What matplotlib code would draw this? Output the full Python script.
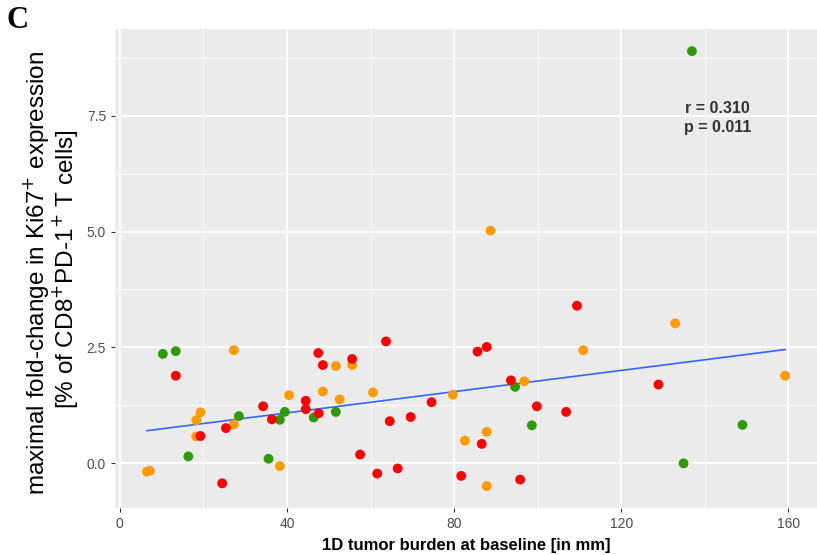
import numpy as np
import matplotlib
matplotlib.use('Agg')
import matplotlib.pyplot as plt

green_x = [10.3, 13.4, 16.4, 28.5, 35.6, 38.3, 39.5, 46.4, 51.7, 94.6, 98.6, 134.9, 136.9, 149.0]
green_y = [2.36, 2.42, 0.15, 1.02, 0.10, 0.94, 1.11, 0.99, 1.11, 1.65, 0.82, 0.00, 8.89, 0.83]

orange_x = [6.5, 7.2, 18.3, 18.3, 19.3, 27.3, 27.3, 38.3, 40.5, 48.6, 51.7, 52.6, 55.6, 60.6,
            79.7, 82.6, 87.8, 87.8, 88.7, 96.8, 110.9, 132.9, 159.2]
orange_y = [-0.18, -0.16, 0.93, 0.58, 1.10, 2.44, 0.84, -0.06, 1.47, 1.55, 2.10, 1.38, 2.12, 1.53,
            1.48, 0.49, 0.68, -0.49, 5.02, 1.77, 2.44, 3.02, 1.89]

red_x = [13.4, 19.3, 24.5, 25.4, 34.3, 36.4, 44.5, 44.5, 47.5, 47.6, 48.6, 55.6, 57.5, 61.6,
         63.7, 64.6, 66.5, 69.6, 74.6, 81.7, 85.6, 86.6, 87.8, 93.6, 95.8, 99.8, 106.8, 109.4, 128.9]
red_y = [1.89, 0.59, -0.43, 0.76, 1.23, 0.95, 1.35, 1.17, 2.38, 1.08, 2.12, 2.25, 0.19, -0.22,
         2.63, 0.91, -0.11, 1.00, 1.32, -0.27, 2.41, 0.42, 2.51, 1.79, -0.35, 1.23, 1.11, 3.40, 1.70]

x_ticks = [0, 40, 80, 120, 160]
y_ticks = [0.0, 2.5, 5.0, 7.5]
stats_text = "r = 0.310\np = 0.011"

fig = plt.figure(figsize=(8.17, 5.55), dpi=100)
ax = fig.add_axes([0.1408, 0.085, 0.8592, 0.862])
ax.set_facecolor('#EBEBEB')

for spine in ax.spines.values():
    spine.set_visible(False)

# ggplot-ish grid
ax.set_xticks(x_ticks)
ax.set_yticks(y_ticks)
ax.set_xticks([20, 60, 100, 140], minor=True)
ax.set_yticks([1.25, 3.75, 6.25, 8.75], minor=True)
ax.grid(which='major', color='white', linewidth=1.2)
ax.grid(which='minor', color='white', linewidth=0.6)
ax.set_axisbelow(True)
ax.tick_params(which='minor', length=0)
ax.tick_params(which='major', length=3, color='#333333', labelcolor='#4D4D4D', labelsize=10)
ax.set_xticklabels([str(t) for t in x_ticks])
ax.set_yticklabels(['0.0', '2.5', '5.0', '7.5'])

all_x = np.array(green_x + orange_x + red_x)
all_y = np.array(green_y + orange_y + red_y)

ax.scatter(green_x, green_y, s=50, color='#2E9A05', edgecolors='none', zorder=3)
ax.scatter(orange_x, orange_y, s=50, color='#FF9A00', edgecolors='none', zorder=3)
ax.scatter(red_x, red_y, s=50, color='#FF0000', edgecolors='none', zorder=3)

# linear fit
slope, intercept = np.polyfit(all_x, all_y, 1)
xs = np.array([all_x.min(), all_x.max()])
ax.plot(xs, intercept + slope * xs, color='#3366FF', linewidth=1.2, zorder=2)

ax.text(143, 7.45, stats_text, ha='center', va='center', fontsize=11.5,
        fontweight='bold', color='#333333', family='Liberation Sans', linespacing=1.35)

xr = all_x.max() - all_x.min()
yr = all_y.max() - all_y.min()
ax.set_xlim(all_x.min() - 0.05 * xr, all_x.max() + 0.05 * xr)
ax.set_ylim(all_y.min() - 0.05 * yr, all_y.max() + 0.05 * yr)

for lab in ax.get_xticklabels() + ax.get_yticklabels():
    lab.set_family('Liberation Sans')

ax.set_xlabel('1D tumor burden at baseline [in mm]', fontsize=12, fontweight='bold',
              family='Liberation Sans', labelpad=5)
fig.text(0.044, 0.508, r'maximal fold-change in Ki67$^{+}$ expression',
         rotation=90, ha='center', va='center', fontsize=17.5, family='Liberation Sans')
fig.text(0.080, 0.515, r'[% of CD8$^{+}$PD-1$^{+}$ T cells]',
         rotation=90, ha='center', va='center', fontsize=17.5, family='Liberation Sans')

fig.text(0.008, 0.99, 'C', ha='left', va='top', fontsize=22, fontweight='bold',
         family='Liberation Serif')

fig.savefig('out.png', dpi=100)
